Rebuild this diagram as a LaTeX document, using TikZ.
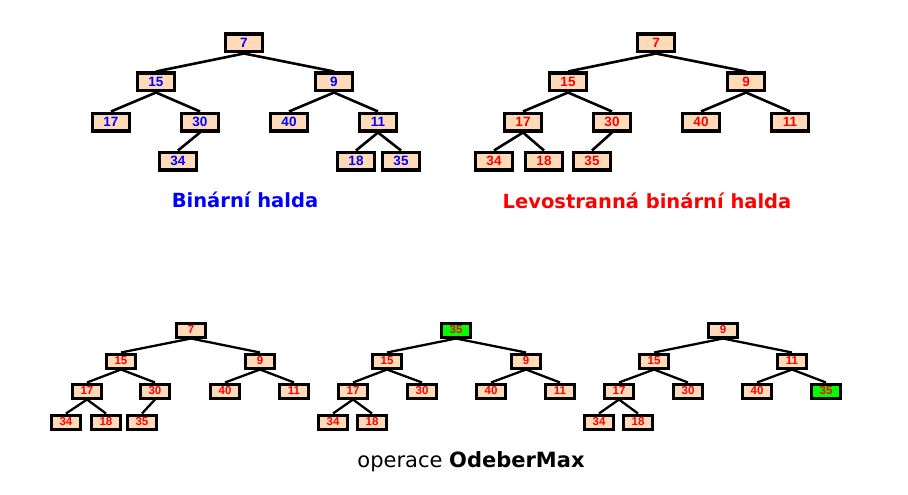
\documentclass[tikz,border=0pt]{standalone}
\usepackage{fontspec}
\setmainfont{Liberation Sans}
\newfontfamily\capfont{DejaVu Sans}
\definecolor{peach}{RGB}{255,218,185}
\definecolor{lime}{RGB}{0,255,0}
\tikzset{
  key/.style={draw, line width=3.4pt, fill=peach, minimum width=36.6pt, minimum height=17.6pt,
    inner sep=0pt, font=\fontsize{13.5}{14}\selectfont\bfseries},
  skey/.style={draw, line width=3pt, fill=peach, minimum width=29pt, minimum height=14pt,
    inner sep=0pt, text=red, font=\fontsize{11.5}{12}\selectfont\bfseries},
  moved/.style={fill=lime},
  edge/.style={line width=2.6pt},
  sedge/.style={line width=2.3pt},
  title/.style={font=\capfont\bfseries\fontsize{19.5}{22}\selectfont},
}
\begin{document}
\begin{tikzpicture}[x=1pt,y=-1pt]
    \useasboundingbox (0,0) rectangle (908,495);
    % Binary heap
    \node[key,text=blue] (b7)  at (244,43)  {7};
    \node[key,text=blue] (b15) at (156,82)  {15};
    \node[key,text=blue] (b9)  at (334,82)  {9};
    \node[key,text=blue] (b17) at (111,122) {17};
    \node[key,text=blue] (b30) at (200,122) {30};
    \node[key,text=blue] (b40) at (289,122) {40};
    \node[key,text=blue] (b11) at (378,122) {11};
    \node[key,text=blue] (b34) at (178,161) {34};
    \node[key,text=blue] (b18) at (356,161) {18};
    \node[key,text=blue] (b35) at (401,161) {35};
    \node[title,text=blue] (tb) at (245,200) {Binární halda};

    % Leftist heap
    \node[key,text=red] (l7)  at (656,43)  {7};
    \node[key,text=red] (l15) at (568,82)  {15};
    \node[key,text=red] (l9)  at (746,82)  {9};
    \node[key,text=red] (l17) at (523,122) {17};
    \node[key,text=red] (l30) at (612,122) {30};
    \node[key,text=red] (l40) at (701,122) {40};
    \node[key,text=red] (l11) at (790,122) {11};
    \node[key,text=red] (l34) at (494,161) {34};
    \node[key,text=red] (l18) at (544,161) {18};
    \node[key,text=red] (l35) at (592,161) {35};
    \node[title,text=red] (tl) at (647,201) {Levostranná binární halda};

    % OdeberMax, step 1
    \node[skey] (a7)  at (191,330) {7};
    \node[skey] (a15) at (121,361) {15};
    \node[skey] (a9)  at (260,361) {9};
    \node[skey] (a17) at (87,391)  {17};
    \node[skey] (a30) at (155,391) {30};
    \node[skey] (a40) at (225,391) {40};
    \node[skey] (a11) at (294,391) {11};
    \node[skey] (a34) at (66,422)  {34};
    \node[skey] (a18) at (106,422) {18};
    \node[skey] (a35) at (142,422) {35};

    % step 2
    \node[skey,moved] (c35) at (456,330) {35};
    \node[skey] (c15) at (387,361) {15};
    \node[skey] (c9)  at (526,361) {9};
    \node[skey] (c17) at (353,391) {17};
    \node[skey] (c30) at (422,391) {30};
    \node[skey] (c40) at (491,391) {40};
    \node[skey] (c11) at (560,391) {11};
    \node[skey] (c34) at (333,422) {34};
    \node[skey] (c18) at (372,422) {18};

    % step 3
    \node[skey] (d9)  at (723,330) {9};
    \node[skey] (d15) at (654,361) {15};
    \node[skey] (d11) at (792,361) {11};
    \node[skey] (d17) at (619,391) {17};
    \node[skey] (d30) at (688,391) {30};
    \node[skey] (d40) at (757,391) {40};
    \node[skey,moved] (d35) at (826,391) {35};
    \node[skey] (d34) at (599,422) {34};
    \node[skey] (d18) at (638,422) {18};

    \node[font=\capfont\fontsize{21}{24}\selectfont] (cap) at (471,462) {operace \textbf{OdeberMax}};

    % Edges
    \foreach \p/\c in {b7/b15, b7/b9, b15/b17, b15/b30, b9/b40, b9/b11, b30/b34, b11/b18, b11/b35,
                       l7/l15, l7/l9, l15/l17, l15/l30, l9/l40, l9/l11, l17/l34, l17/l18, l30/l35}
      \draw[edge] (\p.south) -- (\c.north);
    \foreach \p/\c in {a7/a15, a7/a9, a15/a17, a15/a30, a9/a40, a9/a11, a17/a34, a17/a18, a30/a35,
                       c35/c15, c35/c9, c15/c17, c15/c30, c9/c40, c9/c11, c17/c34, c17/c18,
                       d9/d15, d9/d11, d15/d17, d15/d30, d11/d40, d11/d35, d17/d34, d17/d18}
      \draw[sedge] (\p.south) -- (\c.north);
\end{tikzpicture}
\end{document}
